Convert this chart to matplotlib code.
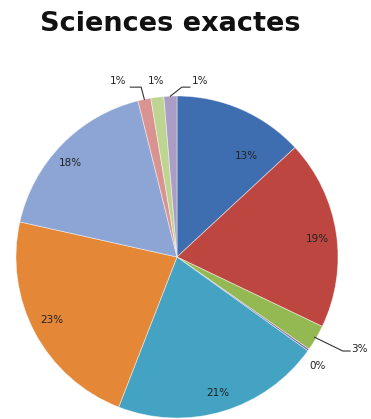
import numpy as np
import matplotlib.pyplot as plt

# parts (%) in clockwise order starting from the top
values = [13.1, 19.0, 2.6, 0.2, 21.0, 22.6, 17.6, 1.3, 1.3, 1.3]
labels = ["13%", "19%", "3%", "0%", "21%", "23%", "18%", "1%", "1%", "1%"]
colors = ["#3E6EAF", "#BE4641", "#94B852", "#7F64A0", "#44A2C3",
          "#E48737", "#8CA5D4", "#D99391", "#BED592", "#AC9DC6"]
title = "Sciences exactes"

fig = plt.figure(figsize=(3.71, 4.19), dpi=100)
# pie centre ~ (177, 257) px, radius ~ 161 px
cx, cy, r = 177 / 371, 1 - 257 / 419, 161
ax = fig.add_axes([cx - r / 371, cy - r / 419, 2 * r / 371, 2 * r / 419])

wedges, _ = ax.pie(values, colors=colors, startangle=90, counterclock=False,
                   wedgeprops=dict(edgecolor=(1, 1, 1, 0.5), linewidth=0.6))
ax.set_xlim(-1, 1)
ax.set_ylim(-1, 1)
ax.set_aspect("equal")
ax.axis("off")

# mid angle of every slice
tot = sum(values)
cum = np.cumsum([0] + values[:-1])
mid = [90 - 360 * (c + v / 2) / tot for c, v in zip(cum, values)]

txt = dict(fontsize=7.5, color="#222222", family="DejaVu Sans")

# labels inside the slices: (radius, angle nudge)
inner = {0: (0.76, -11), 1: (0.88, -1.5), 4: (0.88, 0), 5: (0.87, -1.5), 6: (0.885, 3)}
for i, (rr, da) in inner.items():
    a = np.radians(mid[i] + da)
    ax.text(rr * np.cos(a), rr * np.sin(a), labels[i], ha="center", va="center", **txt)

lk = dict(color="#333333", lw=0.8)

# 3% with leader line
a = np.radians(mid[2])
x0, y0 = 0.99 * np.cos(a), 0.99 * np.sin(a)
ax.plot([x0, 1.03, 1.075], [y0, -0.584, -0.584], clip_on=False, **lk)
ax.text(1.08, -0.574, labels[2], ha="left", va="center", **txt)

# 0% just outside
a = np.radians(mid[3] - 2.4)
ax.text(1.107 * np.cos(a), 1.107 * np.sin(a), labels[3], ha="center", va="center", **txt)

# the three 1% on top
a = np.radians(mid[7])
x0, y0 = np.cos(a), np.sin(a)
ax.plot([x0, x0 - 0.02, -0.29], [y0, 1.055, 1.055], clip_on=False, **lk)
ax.text(-0.365, 1.095, labels[7], ha="center", va="center", **txt)

ax.text(-0.13, 1.095, labels[8], ha="center", va="center", **txt)

a = np.radians(mid[9])
x0, y0 = np.cos(a), np.sin(a)
ax.plot([x0, 0.03, 0.08], [y0, 1.055, 1.055], clip_on=False, **lk)
ax.text(0.145, 1.095, labels[9], ha="center", va="center", **txt)

fig.text(0.46, 1 - 24 / 419, title, ha="center", va="center",
         fontsize=19.5, fontweight="bold", color="#111111")

fig.savefig("out.png", dpi=100)
